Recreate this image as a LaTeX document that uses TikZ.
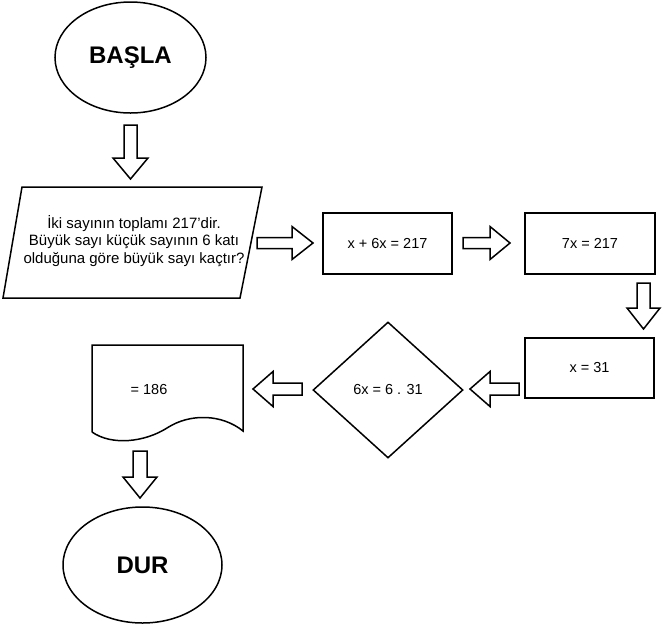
\documentclass[tikz,border=0pt]{standalone}
\usepackage{fontspec}
\setmainfont{Liberation Sans}
\usetikzlibrary{shapes.geometric}

\tikzset{
  x=1pt, y=-1pt,
  outline/.style={draw=black, line width=1.5pt, line join=miter},
  procbox/.style={outline, rectangle, inner sep=0pt, font=\fontsize{14.5}{17}\selectfont},
  terminal/.style={outline, ellipse, inner sep=0pt, font=\fontsize{24}{28}\selectfont\bfseries},
  decision/.style={outline, diamond, inner sep=0pt, font=\fontsize{14.5}{17}\selectfont},
  txt/.style={font=\fontsize{14.5}{17}\selectfont, align=center, inner sep=0pt},
  hollowarrow/.style={outline, fill=white},
}

% hollow block arrow: start point, angle, total length, shaft length, shaft half width, head half width
\newcommand\blkarrow[7]{%
  \draw[hollowarrow, shift={(#1,#2)}, rotate=#3]
    (0,-#6) -- (#5,-#6) -- (#5,-#7) -- (#4,0) -- (#5,#7) -- (#5,#6) -- (0,#6) -- cycle;
}

\begin{document}
\begin{tikzpicture}
  \useasboundingbox (0,0) rectangle (662,625);

  % start / end
  \node[terminal, minimum width=151pt, minimum height=111pt] (basla) at (130.5,57.5) {BAŞLA};
  \node[terminal, minimum width=159pt, minimum height=116pt] (dur) at (142.5,565) {DUR};

  % input (parallelogram)
  \draw[outline] (22,187) -- (262,187) -- (240,298) -- (3,298) -- cycle;
  \node[txt, font=\fontsize{15}{17.5}\selectfont] (soru) at (134,241) {İki sayının toplamı 217'dir.\\ Büyük sayı küçük sayının 6 katı\\olduğuna göre büyük sayı kaçtır?};

  % process steps
  \node[procbox, minimum width=129pt, minimum height=61pt] (denk1) at (387.5,243.5) {x + 6x = 217};
  \node[procbox, minimum width=130pt, minimum height=61pt] (denk2) at (590,243.5) {7x = 217};
  \node[procbox, minimum width=129pt, minimum height=60pt] (sonuc) at (589.5,368) {x = 31};

  % decision
  \node[decision, minimum width=150pt, minimum height=136pt] (karar) at (388,390) {6x = 6 . 31};

  % output document
  \draw[outline] (92,432) -- (92,345) -- (243,345) -- (243,431)
    .. controls (222,414) and (190,413) .. (167,428)
    .. controls (145,442) and (112,446) .. (92,432);
  \node[txt] (cikti) at (149,390) {= 186};

  % flow arrows
  \blkarrow{130.5}{125}{-90}{54}{33}{6.5}{17.5}
  \blkarrow{257}{243}{0}{56}{35}{5.5}{16.5}
  \blkarrow{463}{243}{0}{47}{27}{5.5}{16.5}
  \blkarrow{643.5}{283}{-90}{46}{25}{6.5}{16.5}
  \blkarrow{519}{389}{180}{49}{29}{6}{17.5}
  \blkarrow{302}{389}{180}{49}{29}{6}{17.5}
  \blkarrow{140}{451}{-90}{47}{26}{7}{17}
\end{tikzpicture}
\end{document}
